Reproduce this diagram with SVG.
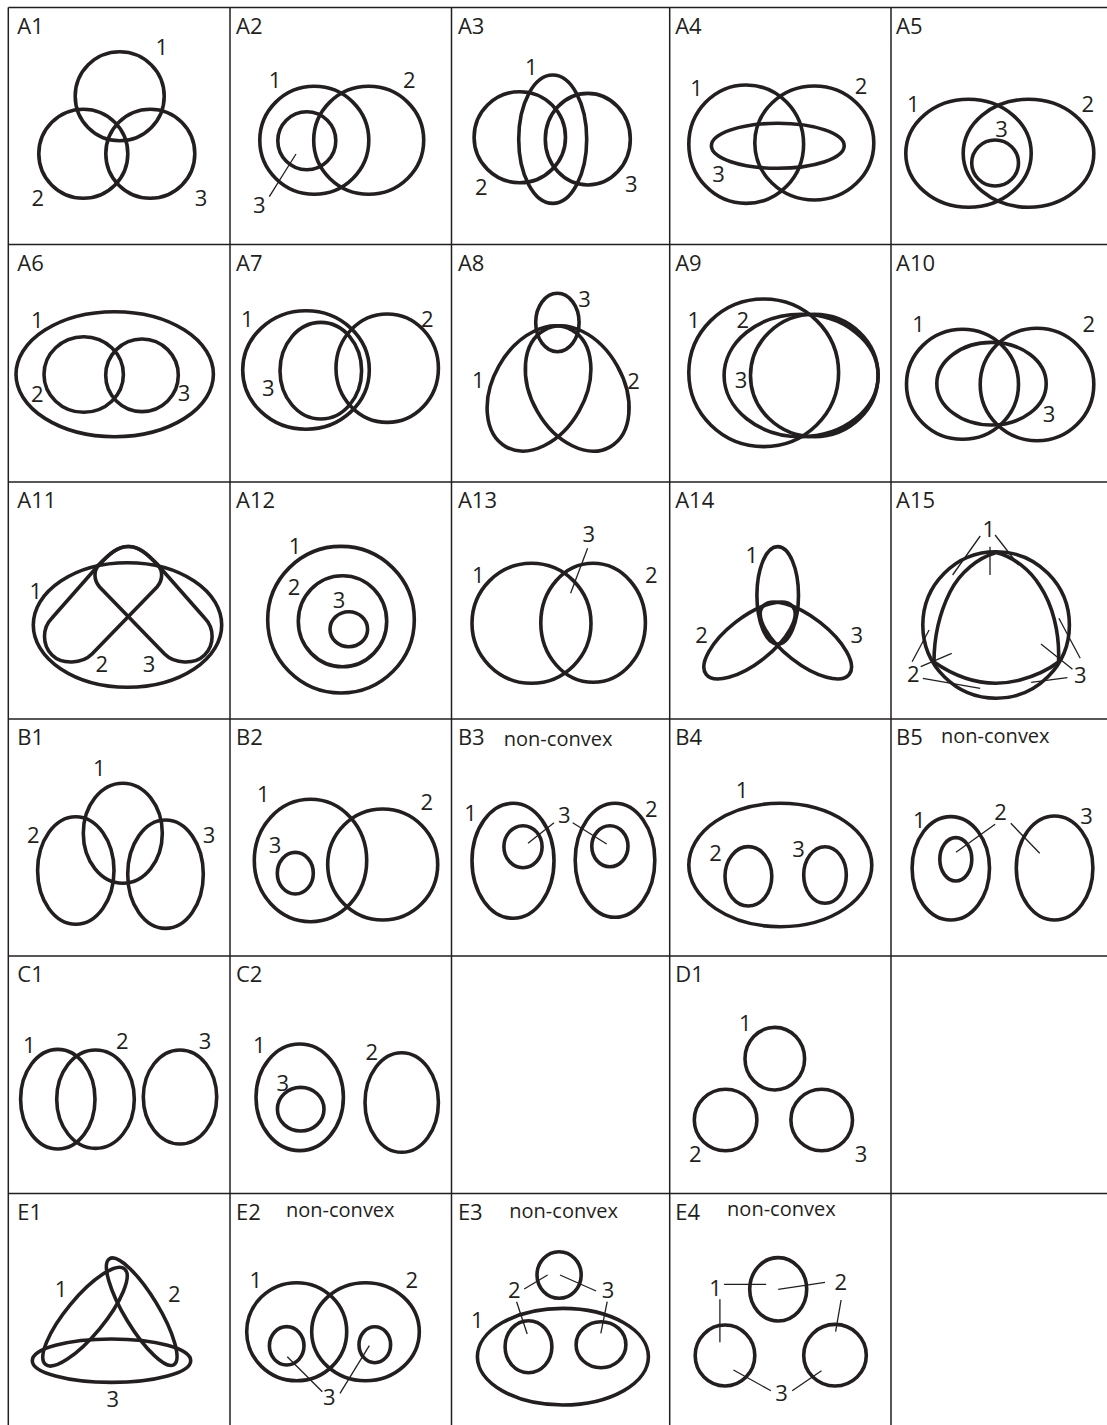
<svg xmlns="http://www.w3.org/2000/svg" width="1107" height="1425" viewBox="0 0 1107 1425">
<style>
.g{stroke:#231f20;stroke-width:1.5;fill:none}
.c ellipse,.c circle,.c path{fill:none;stroke:#231f20;stroke-width:3.6}
.ld line{stroke:#231f20;stroke-width:1.3}
text{font-family:"Open Sans","Noto Sans",sans-serif;fill:#231f20}
.t{font-size:22px}
.n{font-size:22px;text-anchor:middle}
.nc{font-size:20px}
</style>
<rect width="1107" height="1425" fill="#fff"/>
<g id="grid" class="g">
<path d="M8.3,7.5V1425M230,7.5V1425M451.5,7.5V1425M669.7,7.5V1425M891,7.5V1425"/>
<path d="M8.3,7.5H1107M8.3,244.5H1107M8.3,482H1107M8.3,719H1107M8.3,956H1107M8.3,1193.5H1107"/>
</g>
<g id="A1" class="c"><text class="t" x="17.3" y="33.5">A1</text>
<circle cx="119.7" cy="96.2" r="44.5"/><circle cx="83.3" cy="153.8" r="44.5"/><circle cx="150.3" cy="153.8" r="44.5"/>
<text class="n" x="161.7" y="55">1</text><text class="n" x="37.7" y="206">2</text><text class="n" x="201" y="206">3</text></g>
<g id="A2" class="c"><text class="t" x="236" y="33.5">A2</text>
<ellipse cx="314.3" cy="140.3" rx="54.5" ry="54"/><ellipse cx="368.7" cy="140.3" rx="55" ry="54"/><circle cx="306.8" cy="140.7" r="29"/>
<text class="n" x="275" y="88.3">1</text><text class="n" x="409.3" y="88.3">2</text><text class="n" x="259.3" y="213.3">3</text></g>
<g id="A3" class="c"><text class="t" x="457.9" y="33.5">A3</text>
<ellipse cx="519.8" cy="137.2" rx="45.7" ry="45.5"/><ellipse cx="587.8" cy="139.2" rx="42.5" ry="45.8"/><ellipse cx="552.7" cy="139.2" rx="34" ry="64.2"/>
<text class="n" x="531.4" y="75">1</text><text class="n" x="481.3" y="195">2</text><text class="n" x="631.4" y="191.6">3</text></g>
<g id="A4" class="c"><text class="t" x="675.2" y="33.5">A4</text>
<ellipse cx="746.2" cy="144.2" rx="57.4" ry="59.2"/><ellipse cx="814.3" cy="143" rx="59.5" ry="57"/><ellipse cx="777.8" cy="145.8" rx="66.4" ry="22.5"/>
<text class="n" x="696.5" y="95.6">1</text><text class="n" x="861.1" y="94.3">2</text><text class="n" x="718.6" y="182.3">3</text></g>
<g id="A5" class="c"><text class="t" x="896" y="33.5">A5</text>
<ellipse cx="968.5" cy="153.3" rx="62.7" ry="54"/><ellipse cx="1028.5" cy="153.3" rx="65.3" ry="54"/><ellipse cx="995.1" cy="163" rx="23.4" ry="23"/>
<text class="n" x="913.4" y="112.3">1</text><text class="n" x="1087.8" y="112.3">2</text><text class="n" x="1001.5" y="136.6">3</text></g>
<g id="A6" class="c"><text class="t" x="17.3" y="270.5">A6</text>
<ellipse cx="114.7" cy="374.2" rx="98.7" ry="62.5"/><ellipse cx="83.7" cy="374.5" rx="39.7" ry="37.8"/><ellipse cx="142" cy="375.3" rx="36.3" ry="36.3"/>
<text class="n" x="37.3" y="327.6">1</text><text class="n" x="37.3" y="401.6">2</text><text class="n" x="184" y="400.6">3</text></g>
<g id="A7" class="c"><text class="t" x="236" y="270.5">A7</text>
<ellipse cx="306" cy="370" rx="63.3" ry="59.3"/><ellipse cx="387.2" cy="368.2" rx="51.2" ry="54.2"/><ellipse cx="320.8" cy="370.7" rx="40.8" ry="48.3"/>
<text class="n" x="247.3" y="327.3">1</text><text class="n" x="427.3" y="327.3">2</text><text class="n" x="268.3" y="396">3</text></g>
<g id="A8" class="c"><text class="t" x="457.9" y="270.5">A8</text>
<ellipse cx="557.4" cy="322.5" rx="21.7" ry="29.2"/>
<ellipse cx="539" cy="388.5" rx="46" ry="67" transform="rotate(29.5 539 388.5)"/>
<ellipse cx="577.2" cy="388.5" rx="46" ry="67" transform="rotate(-29.5 577.2 388.5)"/>
<text class="n" x="584.6" y="306.6">3</text><text class="n" x="478.3" y="387.6">1</text><text class="n" x="633.5" y="389.3">2</text></g>
<g id="A9" class="c"><text class="t" x="675.2" y="270.5">A9</text>
<ellipse cx="763.7" cy="372.8" rx="74.9" ry="73.8"/><ellipse cx="801.1" cy="375.5" rx="77" ry="61.2"/><ellipse cx="814.3" cy="375.5" rx="63.8" ry="61.2"/>
<text class="n" x="693.9" y="328.3">1</text><text class="n" x="742.9" y="328.3">2</text><text class="n" x="741.1" y="387.6">3</text></g>
<g id="A10" class="c"><text class="t" x="896" y="270.5">A10</text>
<ellipse cx="962.5" cy="384.3" rx="56" ry="55"/><ellipse cx="1037" cy="384.5" rx="56.8" ry="56.2"/><ellipse cx="991.5" cy="383.7" rx="54.7" ry="41.3"/>
<text class="n" x="918.5" y="331.6">1</text><text class="n" x="1088.7" y="331.6">2</text><text class="n" x="1049.1" y="421.6">3</text></g>
<g id="A11" class="c"><text class="t" x="17.3" y="508">A11</text>
<ellipse cx="127.5" cy="625" rx="94.2" ry="62.3"/>
<path d="M96.7,567.3C110,553 118,546.5 128.3,546.5C138.5,546.5 146.5,553 158,565C163,571 163,580 157,587L92,654C82,664 62,665 52,655C42,645 42,628 52,618Z"/>
<path d="M159.9,567.3C146.6,553 138.6,546.5 128.3,546.5C118.1,546.5 110.1,553 98.6,565C93.6,571 93.6,580 99.6,587L164.6,654C174.6,664 194.6,665 204.6,655C214.6,645 214.6,628 204.6,618Z"/>
<text class="n" x="35.7" y="599">1</text><text class="n" x="101.7" y="671.6">2</text><text class="n" x="149" y="671.6">3</text></g>
<g id="A12" class="c"><text class="t" x="236" y="508">A12</text>
<circle cx="341" cy="619.7" r="73.3"/><ellipse cx="342.5" cy="621.2" rx="44.2" ry="45.5"/><ellipse cx="348.8" cy="629.2" rx="18.8" ry="17.5"/>
<text class="n" x="295" y="554.3">1</text><text class="n" x="294" y="595">2</text><text class="n" x="339" y="608.3">3</text></g>
<g id="A13" class="c"><text class="t" x="457.9" y="508">A13</text>
<ellipse cx="531.5" cy="623.3" rx="59.5" ry="60"/><ellipse cx="593.1" cy="622.8" rx="52.3" ry="59.5"/>
<text class="n" x="478.3" y="583.3">1</text><text class="n" x="651.4" y="583.3">2</text><text class="n" x="588.9" y="541.6">3</text></g>
<g id="A14" class="c"><text class="t" x="675.2" y="508">A14</text>
<ellipse cx="777.7" cy="595.3" rx="20.8" ry="48.7"/>
<ellipse cx="749.5" cy="640.5" rx="55" ry="23" transform="rotate(-38 749.5 640.5)"/>
<ellipse cx="805.9" cy="640.5" rx="55" ry="23" transform="rotate(38 805.9 640.5)"/>
<text class="n" x="751.8" y="563.3">1</text><text class="n" x="701.6" y="642.6">2</text><text class="n" x="856.8" y="642.6">3</text></g>
<g id="A15" class="c"><text class="t" x="896" y="508">A15</text>
<circle cx="996.1" cy="625" r="73.3"/>
<path d="M996.1,552.5C978,558 960,572 950,592C938,616 934,640 934,662C960,680 990,688 1020,680C1035,676 1048,670 1058.5,662C1060,632 1052,604 1040,586C1030,570 1014,557 996.1,552.5Z"/>
<text class="n" x="988.7" y="537.3">1</text><text class="n" x="913.4" y="681.6">2</text><text class="n" x="1080.2" y="683.3">3</text></g>
<g id="B1" class="c"><text class="t" x="17.3" y="745">B1</text>
<ellipse cx="122.8" cy="833.3" rx="39.5" ry="50"/><ellipse cx="75.8" cy="870.5" rx="38.2" ry="53.8"/><ellipse cx="165.5" cy="874.2" rx="37.8" ry="54.2"/>
<text class="n" x="99.3" y="775.6">1</text><text class="n" x="33.3" y="843.3">2</text><text class="n" x="209" y="843.3">3</text></g>
<g id="B2" class="c"><text class="t" x="236" y="745">B2</text>
<ellipse cx="310.5" cy="860.5" rx="56.2" ry="61.2"/><ellipse cx="382.7" cy="864.5" rx="55" ry="55.5"/><ellipse cx="295.3" cy="873.2" rx="18" ry="20.8"/>
<text class="n" x="263.3" y="801.6">1</text><text class="n" x="426.7" y="810">2</text><text class="n" x="275" y="853.3">3</text></g>
<g id="B3" class="c"><text class="t" x="457.9" y="745">B3</text><text class="nc" x="503.8" y="745.7">non-convex</text>
<ellipse cx="513" cy="860.8" rx="41" ry="57.5"/><ellipse cx="523" cy="846.7" rx="19.1" ry="21"/><ellipse cx="615" cy="860.3" rx="39.8" ry="57"/><ellipse cx="609.9" cy="846.2" rx="18.1" ry="20.5"/>
<text class="n" x="470.6" y="820.6">1</text><text class="n" x="651.4" y="816.6">2</text><text class="n" x="564.2" y="822.6">3</text></g>
<g id="B4" class="c"><text class="t" x="675.2" y="745">B4</text>
<ellipse cx="780.3" cy="865" rx="91.5" ry="61.7"/><ellipse cx="748.4" cy="876.3" rx="23.4" ry="29.7"/><ellipse cx="825" cy="875" rx="21.3" ry="28.3"/>
<text class="n" x="742" y="798.3">1</text><text class="n" x="715.6" y="860.6">2</text><text class="n" x="798.6" y="856.6">3</text></g>
<g id="B5" class="c"><text class="t" x="896" y="745">B5</text><text class="nc" x="941" y="743.3">non-convex</text>
<ellipse cx="950.8" cy="868.3" rx="38.7" ry="51.7"/><ellipse cx="955.8" cy="859.3" rx="16" ry="21.7"/><ellipse cx="1054.6" cy="868" rx="38.3" ry="52"/>
<text class="n" x="919.4" y="828.3">1</text><text class="n" x="1000.6" y="820">2</text><text class="n" x="1086.5" y="824.3">3</text></g>
<g id="C1" class="c"><text class="t" x="17.3" y="982">C1</text>
<ellipse cx="57.8" cy="1099.2" rx="37.2" ry="49.8"/><ellipse cx="95.5" cy="1099.2" rx="38.8" ry="49.2"/><ellipse cx="180" cy="1097" rx="36.7" ry="47"/>
<text class="n" x="29.3" y="1053.3">1</text><text class="n" x="122.3" y="1049.3">2</text><text class="n" x="205" y="1049.3">3</text></g>
<g id="C2" class="c"><text class="t" x="236" y="982">C2</text>
<ellipse cx="299.7" cy="1097.3" rx="43.7" ry="53.3"/><ellipse cx="300.7" cy="1109.2" rx="23.3" ry="21.8"/><ellipse cx="401.7" cy="1102.5" rx="36.7" ry="49.8"/>
<text class="n" x="259.3" y="1053.3">1</text><text class="n" x="282.7" y="1091">3</text><text class="n" x="371.7" y="1060">2</text></g>
<g id="D1" class="c"><text class="t" x="675.2" y="982">D1</text>
<ellipse cx="774.8" cy="1058.7" rx="29.8" ry="31.3"/><ellipse cx="725.6" cy="1120" rx="31.3" ry="30.7"/><ellipse cx="821.7" cy="1120" rx="30.8" ry="30.7"/>
<text class="n" x="745.4" y="1031">1</text><text class="n" x="695.2" y="1161.6">2</text><text class="n" x="861.1" y="1161.6">3</text></g>
<g id="E1" class="c"><text class="t" x="17.3" y="1219.5">E1</text>
<ellipse cx="111.5" cy="1360.7" rx="79.2" ry="21.7"/>
<ellipse cx="85" cy="1316.7" rx="62" ry="19" transform="rotate(-50.4 85 1316.7)"/>
<ellipse cx="141.7" cy="1311.7" rx="62" ry="17" transform="rotate(58.8 141.7 1311.7)"/>
<text class="n" x="61" y="1296.6">1</text><text class="n" x="174.3" y="1302.3">2</text><text class="n" x="112.7" y="1406.6">3</text></g>
<g id="E2" class="c"><text class="t" x="236" y="1219.5">E2</text><text class="nc" x="286" y="1217.3">non-convex</text>
<ellipse cx="296.7" cy="1331.7" rx="50" ry="49"/><ellipse cx="365.5" cy="1331.7" rx="53.8" ry="49"/><ellipse cx="286.7" cy="1345.8" rx="17.3" ry="19.2"/><ellipse cx="374.8" cy="1344.7" rx="15.8" ry="18"/>
<text class="n" x="255.7" y="1288.3">1</text><text class="n" x="411.7" y="1287.6">2</text><text class="n" x="329.3" y="1405">3</text></g>
<g id="E3" class="c"><text class="t" x="457.9" y="1219.5">E3</text><text class="nc" x="509.3" y="1218.3">non-convex</text>
<ellipse cx="562.9" cy="1356.7" rx="85.5" ry="48.3"/><ellipse cx="559.1" cy="1275" rx="22.1" ry="23.3"/><ellipse cx="528.5" cy="1346.7" rx="23.4" ry="26"/><ellipse cx="601" cy="1344.7" rx="24.9" ry="23"/>
<text class="n" x="477.4" y="1328.3">1</text><text class="n" x="514.4" y="1298.3">2</text><text class="n" x="608" y="1298.3">3</text></g>
<g id="E4" class="c"><text class="t" x="675.2" y="1219.5">E4</text><text class="nc" x="727.1" y="1216">non-convex</text>
<ellipse cx="778.2" cy="1289.3" rx="28.5" ry="31.7"/><ellipse cx="725" cy="1355.5" rx="29.8" ry="30.5"/><ellipse cx="835" cy="1355.2" rx="31.3" ry="30.8"/>
<text class="n" x="715.6" y="1295.6">1</text><text class="n" x="840.7" y="1290">2</text><text class="n" x="781.6" y="1401">3</text></g>
<g id="connectors" class="ld">
<line x1="269.3" y1="196.7" x2="296" y2="154"/>
<line x1="587.6" y1="548.3" x2="570.6" y2="593.3"/>
<line x1="980.2" y1="536" x2="952.6" y2="575"/><line x1="995.1" y1="535" x2="1018.5" y2="565"/><line x1="990" y1="546.7" x2="990" y2="575"/>
<line x1="912.1" y1="661.7" x2="929.1" y2="630"/><line x1="920.7" y1="666.7" x2="951.7" y2="653.3"/><line x1="922.8" y1="678.3" x2="980.2" y2="688.3"/>
<line x1="1080.2" y1="658.3" x2="1058.9" y2="618.3"/><line x1="1072.5" y1="669.3" x2="1041" y2="644"/><line x1="1067.4" y1="677.7" x2="1031.2" y2="682.3"/>
<line x1="554" y1="822.7" x2="528" y2="843.3"/><line x1="572.7" y1="822.7" x2="606.7" y2="844"/>
<line x1="995.1" y1="824.3" x2="956" y2="852.3"/><line x1="1010.8" y1="823.3" x2="1039.7" y2="853.3"/>
<line x1="287.3" y1="1356.7" x2="322.3" y2="1391.7"/><line x1="369.3" y1="1345.7" x2="340" y2="1393.3"/>
<line x1="524.2" y1="1289" x2="547.6" y2="1275"/><line x1="596.1" y1="1291" x2="560" y2="1275"/><line x1="516.6" y1="1301.7" x2="527.2" y2="1334"/><line x1="607.2" y1="1301.7" x2="600.8" y2="1333.3"/>
<line x1="724.1" y1="1284.3" x2="766.2" y2="1284.3"/><line x1="719.9" y1="1299.3" x2="719.9" y2="1342.3"/>
<line x1="825" y1="1282.3" x2="778.2" y2="1289.3"/><line x1="841.1" y1="1300" x2="835.6" y2="1331.7"/>
<line x1="770.9" y1="1390.7" x2="733.5" y2="1370"/><line x1="792.2" y1="1390.7" x2="821.5" y2="1370.7"/>
</g>
</svg>
